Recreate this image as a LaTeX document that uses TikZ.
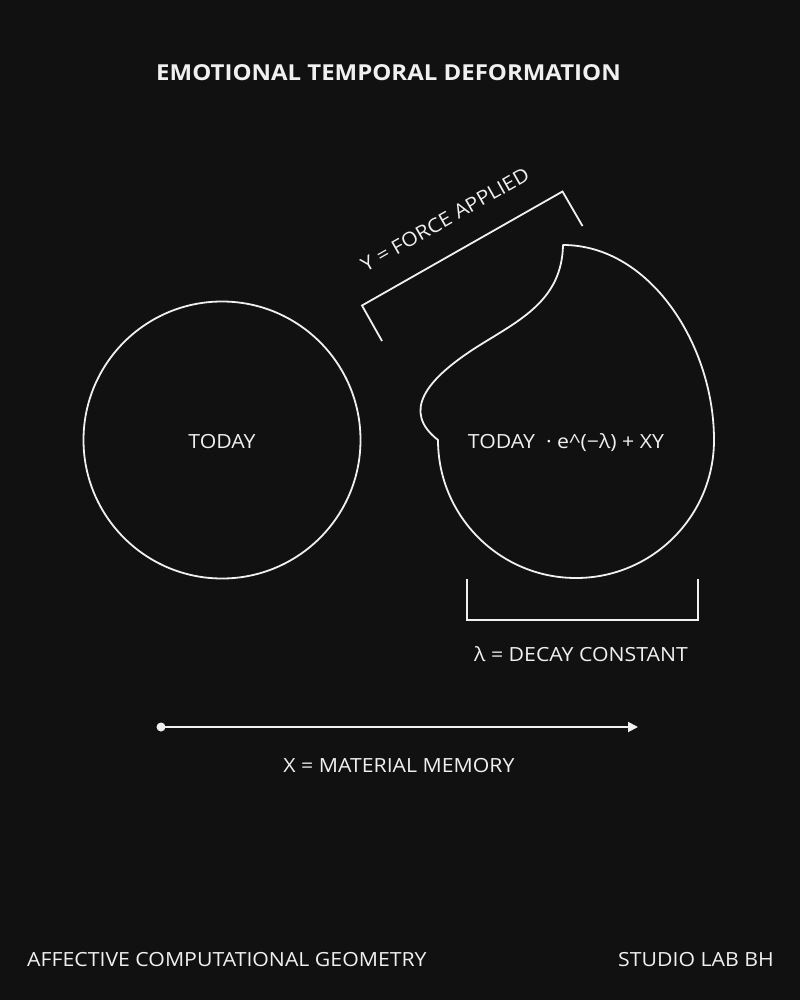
\documentclass[tikz,border=0pt]{standalone}
\usepackage{fontspec}
\setmainfont{Open Sans}[FakeStretch=1.09]
\usetikzlibrary{arrows.meta}
\definecolor{bg}{HTML}{111111}
\definecolor{ink}{HTML}{F0F0F0}
\begin{document}
\begin{tikzpicture}[x=1pt,y=-1pt,
  line/.style={draw=ink,line width=1.8pt},
  lbl/.style={text=ink,font=\fontsize{19.5}{23}\selectfont,inner sep=0pt,yshift=-1.5pt},
  ttl/.style={text=ink,font=\fontsize{22}{26}\selectfont\bfseries,inner sep=0pt,yshift=-1pt}]
\fill[bg] (0,0) rectangle (800,1000);
\useasboundingbox (0,0) rectangle (800,1000);
\node[ttl] (title) at (388.5,72) {EMOTIONAL TEMPORAL DEFORMATION};
% circle
\node[line,circle,minimum size=277pt,inner sep=0pt] (c1) at (222,440) {};
\node[lbl] (t1) at (c1.center) {TODAY};
% deformed shape
\coordinate (notch) at (438,440);
\coordinate (right) at (714,440);
\coordinate (tip) at (563,245);
\draw[line,line join=round] (notch) arc[start angle=180,end angle=360,radius=138pt]
  .. controls (714,345) and (650,245) .. (tip)
  .. controls (562,300) and (520,320) .. (480,345)
  .. controls (424,380) and (402,412) .. (notch) -- cycle;
\node[lbl] (t2) at (566,441) {TODAY\ \ · e\^{}(−λ) + XY};
% force bracket
\coordinate (fa) at (382,341);
\coordinate (fb) at (362,305.5);
\coordinate (fc) at (562.5,191.5);
\coordinate (fd) at (582.5,226);
\draw[line] (fa) -- (fb) -- (fc) -- (fd);
\node[lbl,rotate=29.6] (flab) at (445,218) {Y = FORCE APPLIED};
% decay bracket
\coordinate (da) at (467,579);
\coordinate (db) at (467,620);
\coordinate (dc) at (698,620);
\coordinate (dd) at (698,579);
\draw[line] (da) -- (db) -- (dc) -- (dd);
\node[lbl] (dlab) at (581,653) {λ = DECAY CONSTANT};
% arrow
\coordinate (xa) at (161,727);
\coordinate (xb) at (638,727);
\fill[ink] (xa) circle (4.5pt);
\draw[line,-{Triangle[length=10pt,width=10pt]}] (xa) -- (xb);
\node[lbl] (xlab) at (399,764) {X = MATERIAL MEMORY};
% footer
\node[lbl,anchor=west] (fl) at (27,958) {AFFECTIVE COMPUTATIONAL GEOMETRY};
\node[lbl,anchor=east] (fr) at (774,958) {STUDIO LAB BH};
\end{tikzpicture}
\end{document}
